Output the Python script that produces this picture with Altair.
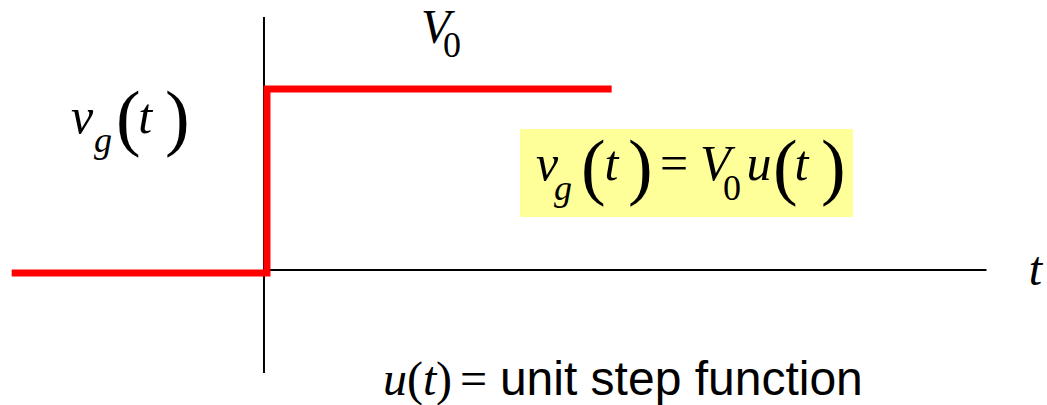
import altair as alt
import pandas as pd

# Step waveform v_g(t) = V0 * u(t), with V0 = 1
step_t = [-1.0, 0.0, 0.0, 1.35]
step_v = [0.0, 0.0, 1.0, 1.0]

# Coordinate axes (t axis and v axis)
axis_t_start = [0.0, 0.0]
axis_t_end = [2.83, 0.0]
axis_v_start = [0.0, -0.56]
axis_v_end = [0.0, 1.375]

# Highlight box behind the equation
box_t = [1.003, 2.307]
box_v = [0.288, 0.766]

# Text pieces: glyph, t position, v position, font size, face
txt_label = ["v", "g", "(", "t", ")",
             "v", "g", "(", "t", ")", "=", "V", "0", "u", "(", "t", ")",
             "V", "0",
             "t",
             "u", "(", "t", ")", "=", "unit step function"]
txt_t = [-0.756, -0.666, -0.580, -0.492, -0.388,
         1.065, 1.136, 1.242, 1.334, 1.426, 1.551, 1.708, 1.798, 1.890, 1.994, 2.078, 2.182,
         0.615, 0.701,
         2.996,
         0.466, 0.560, 0.623, 0.674, 0.768, 0.924]
txt_v = [0.745, 0.641, 0.696, 0.745, 0.696,
         0.489, 0.380, 0.429, 0.489, 0.429, 0.489, 0.489, 0.380, 0.489, 0.429, 0.489, 0.429,
         1.234, 1.158,
         -0.082,
         -0.679, -0.679, -0.679, -0.679, -0.679, -0.679]
txt_size = [50, 36, 74, 50, 74,
            50, 36, 74, 50, 74, 50, 50, 36, 50, 74, 50, 74,
            48, 36,
            48,
            48, 48, 48, 48, 48, 48]
txt_face = ["si", "si", "s", "si", "s",
            "si", "si", "s", "si", "s", "s", "si", "s", "si", "s", "si", "s",
            "si", "s",
            "si",
            "si", "s", "si", "s", "s", "sans"]

W, H = 1047, 405
xs = alt.Scale(domain=[-1.034, 3.067], nice=False, zero=False)
ys = alt.Scale(domain=[-0.734, 1.467], nice=False, zero=False)

box_df = pd.DataFrame({"t": [box_t[0]], "t2": [box_t[1]], "v": [box_v[0]], "v2": [box_v[1]]})
axes_df = pd.DataFrame({
    "t": [axis_t_start[0], axis_v_start[0]],
    "t2": [axis_t_end[0], axis_v_end[0]],
    "v": [axis_t_start[1], axis_v_start[1]],
    "v2": [axis_t_end[1], axis_v_end[1]],
})
step_df = pd.DataFrame({"t": step_t, "v": step_v, "i": list(range(len(step_t)))})
text_df = pd.DataFrame({"label": txt_label, "t": txt_t, "v": txt_v,
                        "size": txt_size, "face": txt_face})

box = alt.Chart(box_df).mark_rect(color="#FFFF99").encode(
    x=alt.X("t:Q", scale=xs, axis=None),
    x2="t2:Q",
    y=alt.Y("v:Q", scale=ys, axis=None),
    y2="v2:Q",
)

axes = alt.Chart(axes_df).mark_rule(color="black", strokeWidth=2).encode(
    x=alt.X("t:Q", scale=xs, axis=None),
    x2="t2:Q",
    y=alt.Y("v:Q", scale=ys, axis=None),
    y2="v2:Q",
)

step = alt.Chart(step_df).mark_line(
    color="#FF0000", strokeWidth=7, strokeJoin="miter", strokeCap="butt",
    xOffset=3, yOffset=3,
).encode(
    x=alt.X("t:Q", scale=xs, axis=None),
    y=alt.Y("v:Q", scale=ys, axis=None),
    order="i:O",
)

FACES = {
    "si": ("Times New Roman", "italic"),
    "s": ("Times New Roman", "normal"),
    "sans": ("Arial", "normal"),
}

# one text layer per (face, size) group so each gets a fixed font and size
text_layers = []
for (face, size), grp in text_df.groupby(["face", "size"]):
    font, style = FACES[face]
    text_layers.append(
        alt.Chart(grp.reset_index(drop=True)).mark_text(
            align="left", baseline="alphabetic", font=font, fontStyle=style,
            fontSize=int(size), color="black",
        ).encode(
            x=alt.X("t:Q", scale=xs, axis=None),
            y=alt.Y("v:Q", scale=ys, axis=None),
            text="label:N",
        )
    )

chart = alt.layer(box, axes, step, *text_layers).properties(
    width=W, height=H, padding=0, autosize=alt.AutoSizeParams(type="none"),
    background="white",
).configure_view(strokeWidth=0)

chart.save("out.html", embed_options={"renderer": "svg", "actions": False})
